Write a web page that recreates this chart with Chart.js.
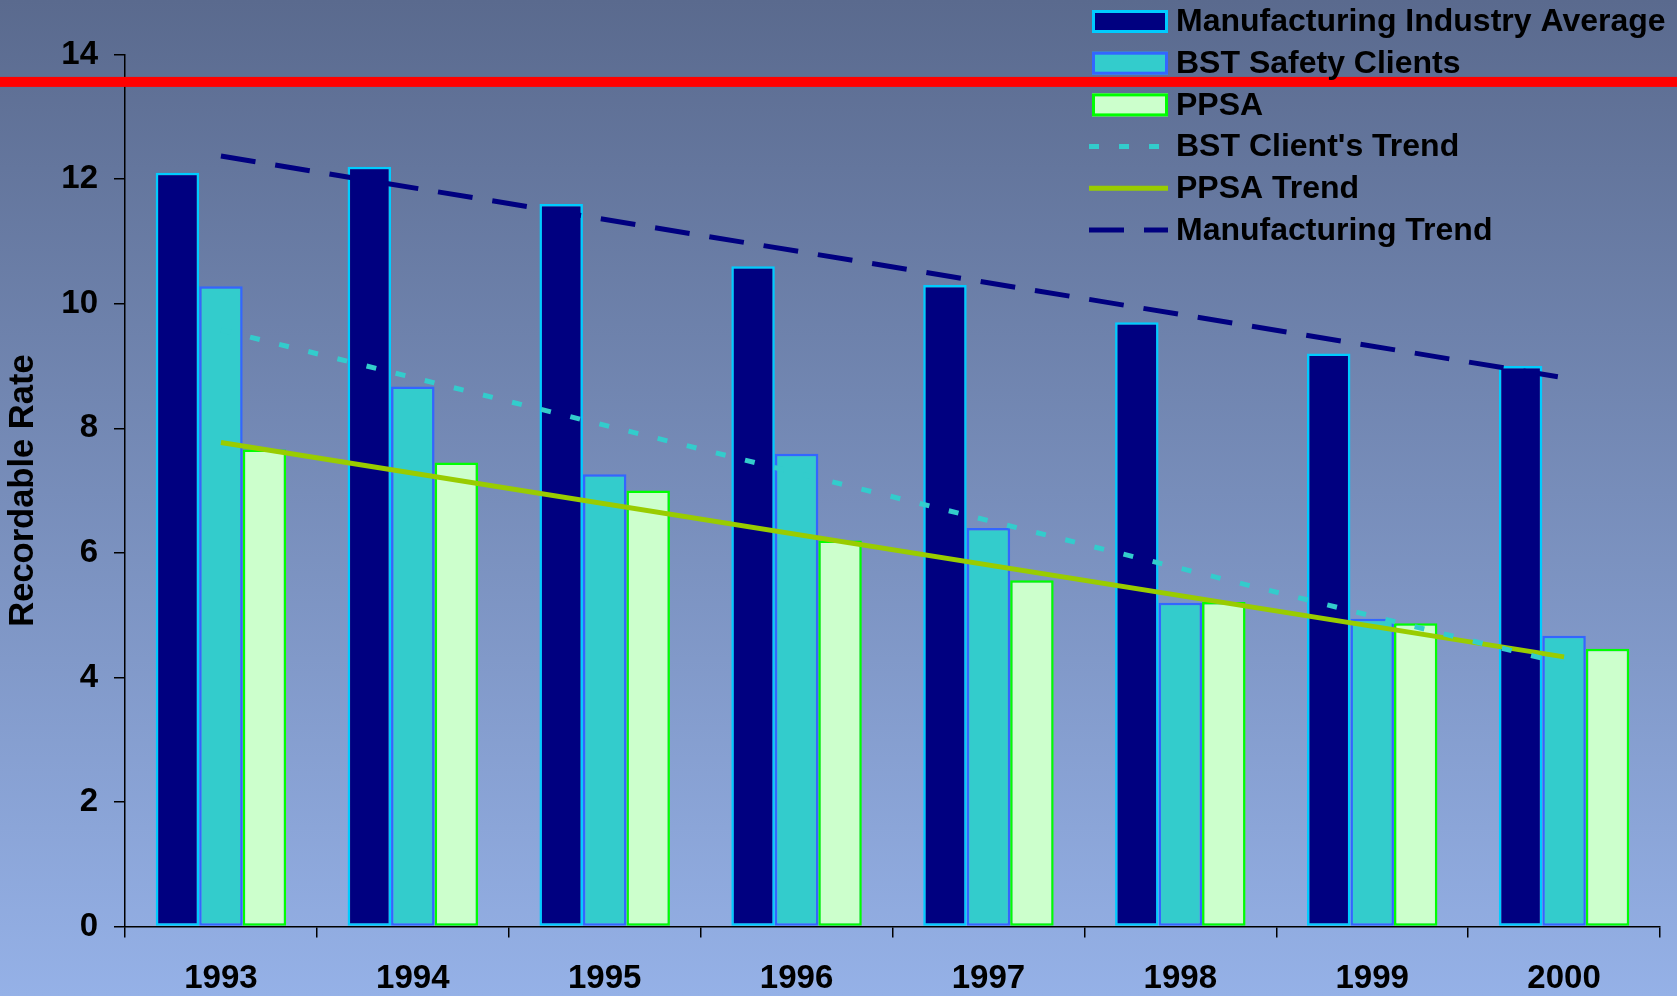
<!DOCTYPE html>
<html lang="en">
  <head>
    <meta charset="UTF-8" />
    <script src="https://cdn.jsdelivr.net/npm/chart.js"></script>
    <style>
      html,
      body {
        margin: 0;
        padding: 0;
      }
      #wrap {
        width: 1677px;
        height: 996px;
        position: relative;
      }
    </style>
  </head>
  <body>
    <div id="wrap"><canvas id="rateChart"></canvas></div>

    <script>
      // Data
      const years = ["1993", "1994", "1995", "1996", "1997", "1998", "1999", "2000"];
      const manufacturingAvg = [12.1, 12.2, 11.6, 10.6, 10.3, 9.7, 9.2, 9.0];
      const bstClients = [10.28, 8.67, 7.26, 7.59, 6.4, 5.2, 4.94, 4.67];
      const ppsa = [7.66, 7.45, 7.0, 6.2, 5.56, 5.21, 4.87, 4.46];
      // trend lines: only the two end points, joined straight
      const bstTrend = [9.58, null, null, null, null, null, null, 4.22];
      const ppsaTrend = [7.77, null, null, null, null, null, null, 4.33];
      const manufacturingTrend = [12.37, null, null, null, null, null, null, 8.81];
      const yMax = 14;
      const yStep = 2;
      const redLineValue = 13.56;

      const FONT = "'Liberation Sans', Arial, sans-serif";

      // gradient background
      const bgPlugin = {
        id: "bg",
        beforeDraw(chart) {
          const ctx = chart.ctx;
          const g = ctx.createLinearGradient(0, 0, 0, chart.height);
          g.addColorStop(0, "rgb(90,106,142)");
          g.addColorStop(1, "rgb(149,177,231)");
          ctx.save();
          ctx.fillStyle = g;
          ctx.fillRect(0, 0, chart.width, chart.height);
          ctx.restore();
        },
      };

      // red line across the whole picture
      const redLinePlugin = {
        id: "redLine",
        afterDatasetsDraw(chart) {
          const ctx = chart.ctx;
          const y = chart.scales.y.getPixelForValue(redLineValue);
          ctx.save();
          ctx.fillStyle = "#ff0000";
          ctx.fillRect(0, y - 5, chart.width, 10);
          ctx.restore();
        },
      };

      // legend drawn by hand, top right
      const legendPlugin = {
        id: "customLegend",
        afterDraw(chart) {
          const ctx = chart.ctx;
          const x0 = 1092;
          const boxW = 76;
          const boxH = 23;
          const rowH = 41.7;
          let y = 21.5;
          ctx.save();
          chart.data.datasets.forEach((ds) => {
            if (ds.type === "line") {
              ctx.strokeStyle = ds.borderColor;
              ctx.lineWidth = ds.borderWidth;
              ctx.setLineDash(ds.borderDash || []);
              ctx.beginPath();
              ctx.moveTo(x0 - 3, y);
              ctx.lineTo(x0 + boxW, y);
              ctx.stroke();
              ctx.setLineDash([]);
            } else {
              ctx.fillStyle = ds.backgroundColor;
              ctx.fillRect(x0, y - boxH / 2, boxW, boxH);
              ctx.strokeStyle = ds.borderColor;
              ctx.lineWidth = 3;
              ctx.strokeRect(x0 + 1.5, y - boxH / 2 + 1.5, boxW - 3, boxH - 3);
            }
            ctx.fillStyle = "#000";
            ctx.font = "bold 32px " + FONT;
            ctx.textBaseline = "middle";
            ctx.textAlign = "left";
            ctx.fillText(ds.label, x0 + 84, y + 1);
            y += rowH;
          });
          ctx.restore();
        },
      };

      const ctx = document.getElementById("rateChart").getContext("2d");
      const rateChart = new Chart(ctx, {
        type: "bar",
        data: {
          labels: years,
          datasets: [
            {
              label: "Manufacturing Industry Average",
              data: manufacturingAvg,
              backgroundColor: "#000080",
              borderColor: "#00ccff",
              borderWidth: 2.5,
              borderSkipped: false,
              order: 2,
            },
            {
              label: "BST Safety Clients",
              data: bstClients,
              backgroundColor: "#33cccc",
              borderColor: "#3366ff",
              borderWidth: 2.5,
              borderSkipped: false,
              order: 2,
            },
            {
              label: "PPSA",
              data: ppsa,
              backgroundColor: "#ccffcc",
              borderColor: "#00ff00",
              borderWidth: 2.5,
              borderSkipped: false,
              order: 2,
            },
            {
              type: "line",
              label: "BST Client's Trend",
              data: bstTrend,
              borderColor: "#33cccc",
              borderWidth: 5,
              borderDash: [10, 20],
              pointRadius: 0,
              spanGaps: true,
              order: 1,
            },
            {
              type: "line",
              label: "PPSA Trend",
              data: ppsaTrend,
              borderColor: "#99cc00",
              borderWidth: 5,
              pointRadius: 0,
              spanGaps: true,
              order: 1,
            },
            {
              type: "line",
              label: "Manufacturing Trend",
              data: manufacturingTrend,
              borderColor: "#000080",
              borderWidth: 5,
              borderDash: [35, 20],
              pointRadius: 0,
              spanGaps: true,
              order: 1,
            },
          ],
        },
        options: {
          responsive: true,
          maintainAspectRatio: false,
          animation: false,
          layout: {
            padding: { top: 54.5, right: 17, left: 0, bottom: 0 },
          },
          datasets: {
            bar: { categoryPercentage: 0.68, barPercentage: 1.0 },
          },
          plugins: {
            legend: { display: false },
            tooltip: { enabled: false },
          },
          scales: {
            x: {
              afterFit: (axis) => {
                axis.height = 69.4;
              },
              border: { color: "#000", width: 1.5 },
              grid: {
                drawOnChartArea: false,
                drawTicks: true,
                tickLength: 11,
                color: "#000",
                lineWidth: 1.5,
              },
              ticks: {
                color: "#000",
                font: { family: FONT, size: 33, weight: "bold" },
                padding: 22,
              },
            },
            y: {
              min: 0,
              max: yMax,
              afterFit: (axis) => {
                axis.width = 125;
              },
              border: { color: "#000", width: 1.5 },
              grid: {
                drawOnChartArea: false,
                drawTicks: true,
                tickLength: 11,
                color: "#000",
                lineWidth: 1.5,
              },
              ticks: {
                stepSize: yStep,
                color: "#000",
                font: { family: FONT, size: 33, weight: "bold" },
                padding: 16,
              },
              title: {
                display: true,
                text: "Recordable Rate",
                color: "#000",
                font: { family: FONT, size: 34.5, weight: "bold" },
                padding: { top: 3, bottom: 0 },
              },
            },
          },
        },
        plugins: [bgPlugin, redLinePlugin, legendPlugin],
      });
    </script>
  </body>
</html>
